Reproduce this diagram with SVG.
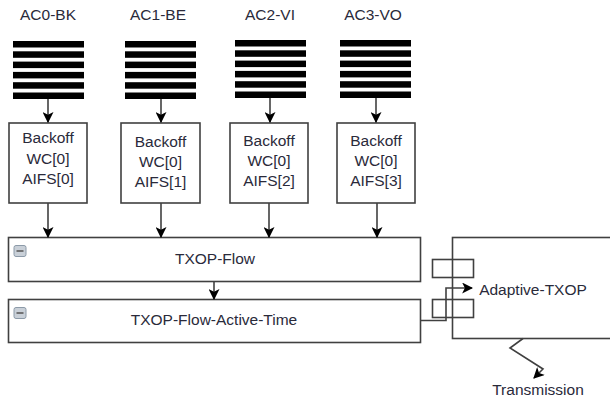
<svg xmlns="http://www.w3.org/2000/svg" width="610" height="404" viewBox="0 0 610 404">
<defs>
<style>
.box{fill:#fff;stroke:#404040;stroke-width:1.6}
.bar{fill:#000}
.t{font-family:"Liberation Sans",Arial,sans-serif;font-size:15.5px;fill:#2a2a3a;text-anchor:middle}
.ln{fill:none;stroke:#404040;stroke-width:1.6}
.icon{fill:#c9d0d8;stroke:#8c9aa8;stroke-width:1}
</style>
<marker id="ah" viewBox="0 0 10 10" refX="9" refY="5" markerWidth="11" markerHeight="11" markerUnits="userSpaceOnUse" orient="auto">
<path d="M0,0 L10,5 L0,10 L2.5,5 z" fill="#000"/>
</marker>
<g id="stack">
<rect class="bar" x="0" y="0" width="71" height="6.5"/>
<rect class="bar" x="0" y="10.3" width="71" height="6.5"/>
<rect class="bar" x="0" y="20.6" width="71" height="6.5"/>
<rect class="bar" x="0" y="30.9" width="71" height="6.5"/>
<rect class="bar" x="0" y="41.2" width="71" height="6.5"/>
<rect class="bar" x="0" y="51.5" width="71" height="6.5"/>
</g>
</defs>
<rect width="610" height="404" fill="#fff"/>

<g id="ac0">
<text class="t" x="48" y="20">AC0-BK</text>
<use href="#stack" x="13" y="41"/>
</g>
<g id="ac1">
<text class="t" x="158" y="20">AC1-BE</text>
<use href="#stack" x="125" y="41"/>
</g>
<g id="ac2">
<text class="t" x="270" y="20">AC2-VI</text>
<use href="#stack" x="235" y="40"/>
</g>
<g id="ac3">
<text class="t" x="373" y="20">AC3-VO</text>
<use href="#stack" x="340" y="40"/>
</g>

<g id="backoff0">
<rect class="box" x="9" y="123" width="78" height="80"/>
<text class="t" x="48" y="143">Backoff</text>
<text class="t" x="48" y="164">WC[0]</text>
<text class="t" x="48" y="184">AIFS[0]</text>
</g>
<g id="backoff1">
<rect class="box" x="121" y="123" width="79" height="80"/>
<text class="t" x="160.5" y="147">Backoff</text>
<text class="t" x="160.5" y="167">WC[0]</text>
<text class="t" x="160.5" y="187">AIFS[1]</text>
</g>
<g id="backoff2">
<rect class="box" x="230" y="123" width="78" height="80"/>
<text class="t" x="269" y="146">Backoff</text>
<text class="t" x="269" y="166">WC[0]</text>
<text class="t" x="269" y="186">AIFS[2]</text>
</g>
<g id="backoff3">
<rect class="box" x="337" y="123" width="78" height="80"/>
<text class="t" x="376" y="146">Backoff</text>
<text class="t" x="376" y="166">WC[0]</text>
<text class="t" x="376" y="186">AIFS[3]</text>
</g>

<g id="txop-flow">
<rect class="box" x="8.5" y="237.5" width="412" height="44"/>
<rect class="icon" x="14" y="245.5" width="12" height="11" rx="2"/>
<line x1="16.5" y1="251" x2="23.5" y2="251" stroke="#555" stroke-width="1.5"/>
<text class="t" x="215" y="264">TXOP-Flow</text>
</g>
<g id="txop-flow-active-time">
<rect class="box" x="8.5" y="299.5" width="412" height="43"/>
<rect class="icon" x="14" y="307.5" width="12" height="11" rx="2"/>
<line x1="16.5" y1="313" x2="23.5" y2="313" stroke="#555" stroke-width="1.5"/>
<text class="t" x="214" y="325">TXOP-Flow-Active-Time</text>
</g>
<g id="adaptive-txop">
<rect class="box" x="452.5" y="237.5" width="170" height="101"/>
<rect class="box" x="432.5" y="259.5" width="41" height="18" style="fill:none"/>
<rect class="box" x="432.5" y="299.5" width="41" height="18" style="fill:none"/>
<text class="t" x="533" y="295">Adaptive-TXOP</text>
</g>
<g id="transmission">
<text class="t" x="538" y="395">Transmission</text>
</g>

<g id="connectors">
<line class="ln" x1="48" y1="99" x2="48" y2="122" marker-end="url(#ah)"/>
<line class="ln" x1="161" y1="99" x2="161" y2="122" marker-end="url(#ah)"/>
<line class="ln" x1="270" y1="98" x2="270" y2="122" marker-end="url(#ah)"/>
<line class="ln" x1="376" y1="98" x2="376" y2="122" marker-end="url(#ah)"/>
<line class="ln" x1="48" y1="203" x2="48" y2="237" marker-end="url(#ah)"/>
<line class="ln" x1="161" y1="203" x2="161" y2="237" marker-end="url(#ah)"/>
<line class="ln" x1="269" y1="203" x2="269" y2="237" marker-end="url(#ah)"/>
<line class="ln" x1="377" y1="203" x2="377" y2="237" marker-end="url(#ah)"/>
<line class="ln" x1="214" y1="282" x2="214" y2="299" marker-end="url(#ah)"/>
<path class="ln" d="M421,320.5 H446 V288 H472" marker-end="url(#ah)"/>
<path class="ln" d="M523,338.5 L510,348 L543,369 L534,378" marker-end="url(#ah)"/>
</g>
</svg>
